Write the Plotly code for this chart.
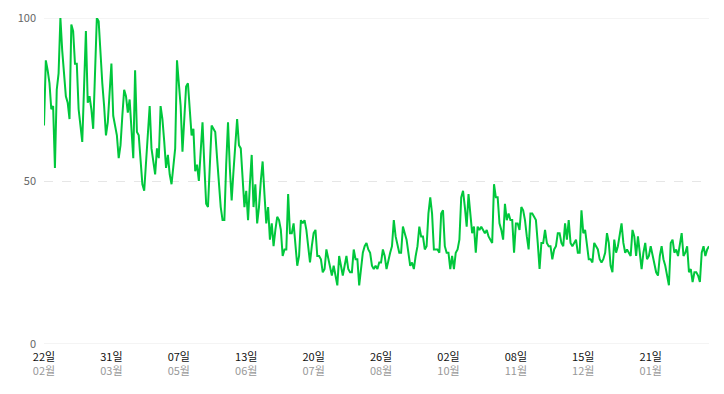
import pandas as pd
import plotly.graph_objects as go

start_date = "2023-02-22"

values_feb_apr = [67, 87, 84, 80, 72, 73, 54, 78, 83, 100, 90, 83, 76, 74, 69, 98, 96, 86, 86, 72,
                  67, 62, 79, 96, 74, 76, 72, 66, 83, 100, 99, 88, 80, 73, 64, 68, 79, 86, 70, 67,
                  64, 57, 61, 70, 78, 76, 71, 75, 66, 57, 84, 65, 64, 56, 49, 47, 57, 66, 73]
values_apr_jun = [60, 55, 52, 60, 57, 73, 69, 62, 54, 58, 52, 49, 55, 60, 87, 80, 73, 59, 69, 79,
                  80, 72, 64, 66, 53, 55, 50, 59, 68, 55, 43, 42, 55, 67, 66, 65, 57, 49, 42, 38,
                  38, 55, 68, 54, 44, 53, 61, 69, 61, 60, 51, 42, 47, 38, 49, 58, 42, 49, 37, 42, 50]
values_jun_aug = [56, 46, 37, 42, 32, 37, 30, 35, 39, 38, 35, 27, 29, 29, 46, 34, 34, 37, 30, 24,
                  27, 38, 37, 38, 35, 30, 25, 30, 34, 35, 27, 27, 26, 22, 23, 29, 26, 24, 21, 24,
                  21, 18, 27, 24, 21, 24, 27, 23, 22, 22, 29, 26, 26, 18, 24, 28, 30, 31, 29, 28, 24]
values_aug_oct = [23, 24, 23, 25, 25, 29, 27, 23, 26, 28, 30, 38, 33, 30, 28, 28, 36, 34, 32, 28,
                  24, 25, 23, 27, 30, 36, 33, 33, 29, 30, 40, 45, 40, 29, 29, 29, 28, 40, 41, 30,
                  28, 28, 23, 27, 23, 28, 29, 32, 45, 47, 42, 36, 46, 39, 34, 36, 28, 36, 35, 36]
values_oct_dec = [35, 34, 35, 33, 32, 31, 49, 45, 45, 37, 35, 32, 43, 38, 40, 38, 38, 28, 37, 37,
                  35, 42, 41, 38, 33, 29, 40, 40, 39, 38, 31, 23, 31, 31, 35, 31, 30, 30, 26, 29,
                  30, 34, 34, 31, 30, 37, 32, 38, 31, 30, 31, 32, 28, 28, 41, 34, 35, 31, 26, 26]
values_dec_feb = [25, 31, 30, 29, 26, 25, 26, 28, 34, 31, 24, 22, 32, 28, 30, 33, 37, 31, 28, 29,
                  28, 27, 35, 33, 27, 33, 28, 23, 28, 31, 26, 27, 30, 27, 25, 22, 21, 27, 30, 26,
                  24, 21, 18, 31, 32, 28, 29, 27, 30, 34, 27, 28, 30, 22, 23, 19, 22, 22, 21, 19,
                  28, 30, 27, 29, 30]

tick_dates = ["2023-02-22", "2023-03-31", "2023-05-07", "2023-06-13", "2023-07-20",
              "2023-08-26", "2023-10-02", "2023-11-08", "2023-12-15", "2024-01-21"]
tick_days = ["22일", "31일", "07일", "13일", "20일", "26일", "02일", "08일", "15일", "21일"]
tick_months = ["02월", "03월", "05월", "06월", "07월", "08월", "10월", "11월", "12월", "01월"]

y_ticks = [0, 50, 100]

values = (values_feb_apr + values_apr_jun + values_jun_aug +
          values_aug_oct + values_oct_dec + values_dec_feb)
dates = pd.date_range(start_date, periods=len(values), freq="D")

ticktext = [f"{d}<br><span style='color:#999999'>{m}</span>" for d, m in zip(tick_days, tick_months)]

fig = go.Figure()
fig.add_trace(go.Scatter(
    x=dates, y=values, mode="lines",
    line=dict(color="#00c73c", width=2),
    hoverinfo="skip",
))

# solid lines at 0 and 100
for yv in (y_ticks[0], y_ticks[-1]):
    fig.add_shape(type="line", xref="paper", x0=0, x1=1, yref="y", y0=yv, y1=yv,
                  line=dict(color="#e9e9e9", width=1), layer="below")

# page body has an 8px margin, so the figure is sized to fit the window
fig.update_layout(
    width=716, height=386,
    margin=dict(l=36, r=15, t=10, b=50),
    paper_bgcolor="white", plot_bgcolor="white",
    showlegend=False,
    font=dict(family="Noto Sans CJK KR, sans-serif", size=11, color="#000000"),
    xaxis=dict(
        range=[dates[0], dates[-1]], automargin=False,
        tickmode="array", tickvals=pd.to_datetime(tick_dates), ticktext=ticktext,
        showgrid=False, zeroline=False, showline=False, ticks="",
        tickfont=dict(size=11, color="#111111"),
        ticklabelstandoff=5,
    ),
    yaxis=dict(
        range=[0, 100], automargin=False, tickmode="array", tickvals=y_ticks,
        ticktext=[str(v) for v in y_ticks],
        showgrid=True, gridcolor="#e6e6e6", griddash="dash", gridwidth=1,
        zeroline=False, showline=False, ticks="",
        tickfont=dict(size=11, color="#666666"),
        ticklabelstandoff=7,
    ),
)

fig.write_html("out.html", config={"displayModeBar": False})
